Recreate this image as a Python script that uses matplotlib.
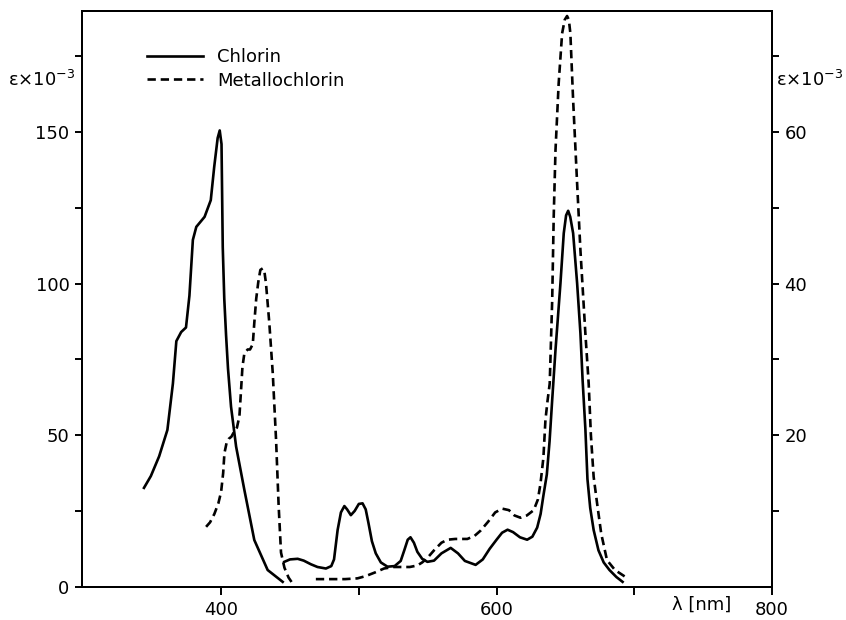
import numpy as np
import matplotlib
matplotlib.use('Agg')
import matplotlib.pyplot as plt

plt.rcParams['font.family'] = ['DejaVu Sans']
plt.rcParams['font.size'] = 13
plt.rcParams['lines.scale_dashes'] = False

# Chlorin (left axis, eps x 10^-3); nan splits the two traced pieces
chl_nm = [344, 349, 355, 361, 365, 367.5, 371, 374.5, 377, 379.5, 382, 388, 392.5, 395,
          397.5, 399, 400.3, 401.2, 402.3, 403.6, 405, 407.2, 410.9, 416.9, 424.1, 433.8, 444.7,
          np.nan,
          445.9, 450, 455.6, 460, 465.2, 470, 476.1, 480, 482, 484.6, 487, 489.5, 491.5, 494.2,
          497, 500, 502.7, 505, 507, 509.5, 512.3, 516, 520.8, 526, 530.4, 533, 535.5, 537.5,
          540, 542.5, 546, 549.8, 554.6, 560, 566.7, 572, 577, 584.8, 590, 595, 600, 604, 608,
          612, 617, 622.2, 626, 629.5, 632, 634, 636.5, 638.5, 640.4, 642.8, 646.4, 648.8,
          650.5, 652, 653.5, 655.6, 658.5, 660.9, 662.5, 664.5, 666, 668, 670.5, 674, 677.8,
          682, 687, 691.5]
chl_eps = [32.6, 36.5, 43, 51.7, 67, 81, 84, 85.5, 96, 114.4, 118.7, 122, 127.5, 138.5,
           148, 150.5, 146, 112, 95, 83, 72, 59.4, 46.2, 31.9, 15.4, 5.5, 1.6,
           np.nan,
           8.2, 9.0, 9.2, 8.6, 7.4, 6.5, 6.0, 6.8, 9, 18.7, 24.5, 26.6, 25.5, 23.6,
           25, 27.3, 27.5, 25.5, 21, 15, 11, 8, 6.6, 6.8, 8.5, 12, 15.5, 16.3,
           14.5, 11.5, 9.2, 8.2, 8.6, 11, 12.8, 11, 8.5, 7.2, 9, 12.5, 15.5, 17.8, 18.8,
           18, 16.3, 15.5, 16.5, 19.5, 24, 30, 37, 48, 61.6, 78.1, 100.1, 116.6,
           122.5, 124, 122, 116.6, 100.1, 83.6, 68, 52, 35.5, 26, 18.7, 12, 8,
           5.5, 3.2, 1.6]

# Metallochlorin (right axis, eps x 10^-3)
met_nm = [389.1, 392, 395.1, 398, 400, 401.5, 402.4, 404, 405.5, 407.5, 409.6, 411.5, 413.3,
          414.5, 415.5, 416.9, 419.3, 421, 423, 424.1, 425.5, 427, 428.5, 430.2, 431.5, 432.6,
          435, 437.5, 439.9, 441.8, 443.5, 446, 449, 452,
          np.nan,
          468.8, 480, 490, 499, 505, 512, 518.3, 525, 530.4, 537, 542.5, 546, 549.8, 554.6,
          560, 564.3, 570, 578.8, 584, 588.4, 594, 599, 604.1, 609, 613, 617.4, 622, 627,
          630, 631.9, 634, 635.5, 637, 638.6, 640.4, 641.5, 642.8, 645.1, 647.6, 649.5,
          651.2, 652.5, 653.6, 655.6, 658.5, 660.9, 664.5, 666.9, 668.5, 670.5, 673, 676,
          680.2, 686, 693.5]
met_eps = [7.9, 8.5, 9.6, 11, 12.5, 15, 17.6, 19, 19.5, 19.8, 20.5, 21, 22.5,
           26, 29, 30.8, 31.3, 31.3, 32, 34.8, 38, 40.2, 41.8, 42, 41.5, 40,
           34.8, 28.2, 19.4, 10.6, 4.5, 2.5, 1.2, 0.4,
           np.nan,
           1.0, 1.0, 1.0, 1.1, 1.4, 1.9, 2.4, 2.6, 2.6, 2.6, 2.8, 3.2, 3.8, 4.8,
           5.8, 6.2, 6.3, 6.3, 6.7, 7.4, 8.6, 9.8, 10.3, 10.1, 9.4, 9.1, 9.4, 10.1,
           11.5, 13.6, 17, 22, 24.5, 26.8, 37.8, 48.8, 57.6, 66.4, 73, 74.8,
           75.3, 74.8, 73, 64.2, 53.2, 44.4, 33.4, 26.8, 20, 14.5, 11, 7,
           3.5, 2.2, 1.3]

x_ticks = [400, 500, 600, 700, 800]
x_labels = ['400', '', '600', '', '800']
left_ticks = [0, 25, 50, 75, 100, 125, 150, 175]
left_labels = ['0', '', '50', '', '100', '', '150', '']
right_ticks = [10, 20, 30, 40, 50, 60, 70]
right_labels = ['', '20', '', '40', '', '60', '']

fig = plt.figure(figsize=(8.46, 6.2), dpi=100)
ax = fig.add_axes([82 / 846, 1 - 586.7 / 620, 690 / 846, 576 / 620])
ax2 = ax.twinx()

l1, = ax.plot(chl_nm, chl_eps, color='black', lw=1.9, label='Chlorin')
l2, = ax2.plot(met_nm, met_eps, color='black', lw=1.9, dashes=(6, 3.5), label='Metallochlorin')

ax.set_xlim(299, 800)
ax.set_ylim(0, 190)
ax2.set_ylim(0, 76)

ax.set_xticks(x_ticks)
ax.set_xticklabels(x_labels)
ax.set_yticks(left_ticks)
ax.set_yticklabels(left_labels)
ax2.set_yticks(right_ticks)
ax2.set_yticklabels(right_labels)

for a in (ax, ax2):
    for s in a.spines.values():
        s.set_linewidth(1.4)
ax.tick_params(axis='x', direction='out', length=6, width=1.4, pad=4)
ax.tick_params(axis='y', direction='out', length=5, width=1.4, pad=4)
ax2.tick_params(axis='y', direction='out', length=5, width=1.4, pad=4)

ax.text(749, -0.032, 'λ [nm]', transform=ax.get_xaxis_transform(),
        ha='center', va='center')

fig.text(8 / 846, 1 - 80 / 620, 'ε×10$^{-3}$', ha='left', va='center', fontsize=13)
fig.text(776 / 846, 1 - 80 / 620, 'ε×10$^{-3}$', ha='left', va='center', fontsize=13)

ax.legend(handles=[l1, l2], loc='upper left', bbox_to_anchor=(0.094, 0.935),
          frameon=False, borderpad=0, borderaxespad=0, handlelength=3.1,
          handletextpad=0.8, labelspacing=0.3, fontsize=13)

fig.savefig('out.png', dpi=100)
